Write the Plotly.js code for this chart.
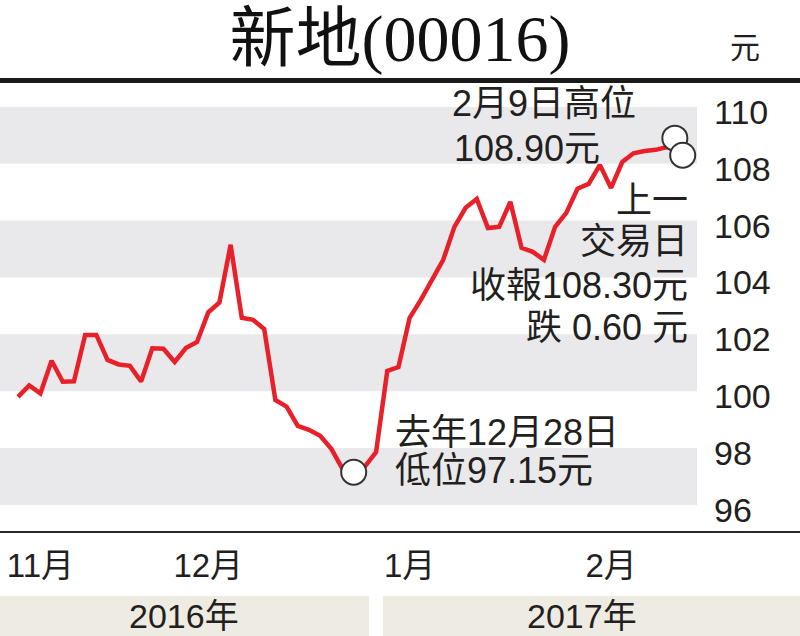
<!DOCTYPE html>
<html>
<head>
<meta charset="utf-8">
<script src="https://cdn.plot.ly/plotly-3.0.1.min.js"></script>
<style>html,body{margin:0;padding:0;background:#fff;}#chart{width:800px;height:636px;}</style>
</head>
<body>
<div id="chart"></div>
<script>
// Trading-day index (0 = 14 Nov 2016 ... 58 = 9 Feb 2017)
const closePrices = [
  99.80, 100.20, 99.92, 101.07, 100.33, 100.35, 101.98, 101.98, 101.10, 100.94,
  100.89, 100.34, 101.51, 101.49, 101.03, 101.52, 101.73, 102.77, 103.12, 105.15,
  102.58, 102.51, 102.19, 99.69, 99.46, 98.78, 98.64, 98.43, 97.97, 97.27,
  97.15, 97.35, 97.86, 100.71, 100.85, 102.58, 103.21, 103.90, 104.62, 105.78,
  106.45, 106.76, 105.74, 105.78, 106.66, 105.04, 104.90, 104.62, 105.78, 106.27,
  107.12, 107.29, 107.96, 107.15, 108.06, 108.37, 108.45, 108.49, 108.59
];
const dayIndex = closePrices.map((_, i) => i);

// highlighted points: 28 Dec low, 9 Feb high, last close
const lowIdx = [30];
const lowVal = [97.15];
const recentIdx = [58.7, 59.4];
const recentVal = [108.90, 108.30];

const monthTickIdx = [2, 17, 35, 53];
const monthTickText = ['11月', '12月', '1月', '2月'];
const yTickVals = [96, 98, 100, 102, 104, 106, 108, 110];
const bandRanges = [[96, 98], [100, 102], [104, 106], [108, 110]];
const yearLabels = ['2016年', '2017年'];

const TXT = '#231f20';
const FONT = 'Liberation Sans, Arial, Noto Sans CJK TC, sans-serif';

const W = 697, TOP = 85, BOT = 512, H = BOT - TOP;
const px = x => x / W;
const py = y => (BOT - y) / H;

const shapes = bandRanges.map(r => ({
  type: 'rect', xref: 'paper', yref: 'y', x0: 0, x1: 1, y0: r[0], y1: r[1],
  fillcolor: '#e9e9eb', line: {width: 0}, layer: 'below'
}));
// top heavy rule
shapes.push({type: 'rect', xref: 'paper', yref: 'paper', x0: 0, x1: 800 / W,
  y0: py(83), y1: py(78), fillcolor: '#1a1a1a', line: {width: 0}});
// bottom rule
shapes.push({type: 'rect', xref: 'paper', yref: 'paper', x0: 0, x1: 800 / W,
  y0: py(533), y1: py(531), fillcolor: '#2a2a2a', line: {width: 0}});
// year bands
shapes.push({type: 'rect', xref: 'paper', yref: 'paper', x0: 0, x1: px(369),
  y0: py(636), y1: py(596), fillcolor: '#eeebe2', line: {width: 0}});
shapes.push({type: 'rect', xref: 'paper', yref: 'paper', x0: px(383), x1: 800 / W,
  y0: py(636), y1: py(596), fillcolor: '#eeebe2', line: {width: 0}});

const ann = (text, x, y, xanchor, size) => ({
  text, xref: 'paper', yref: 'paper', x: px(x), y: py(y), xanchor, yanchor: 'middle',
  showarrow: false, font: {family: FONT, size: size || 36, color: TXT}
});

const annotations = [
  ann('2月9日高位', 450, 103, 'left'),
  ann('108.90元', 452, 148, 'left'),
  ann('上一', 690, 200, 'right'),
  ann('交易日', 690, 242, 'right'),
  ann('收報108.30元', 690, 285, 'right'),
  ann('跌 0.60 元', 690, 327, 'right'),
  ann('去年12月28日', 393, 432, 'left'),
  ann('低位97.15元', 393, 470, 'left'),
  ann('元', 745, 48, 'center', 30),
  ann(yearLabels[0], 184, 616, 'center', 34),
  ann(yearLabels[1], 582, 616, 'center', 34)
];

const traces = [
  {x: dayIndex, y: closePrices, type: 'scatter', mode: 'lines',
   line: {color: '#e8202a', width: 4.5}, hoverinfo: 'skip'},
  {x: lowIdx.concat(recentIdx), y: lowVal.concat(recentVal), type: 'scatter', mode: 'markers',
   marker: {size: 25, color: '#ffffff', line: {color: '#333333', width: 2}}, hoverinfo: 'skip'}
];

const layout = {
  width: 800, height: 636,
  margin: {l: 0, r: 800 - W, t: TOP, b: 636 - BOT, pad: 0},
  paper_bgcolor: '#ffffff', plot_bgcolor: '#ffffff',
  showlegend: false,
  title: {text: '新地(00016)', x: 0.5, xref: 'container', y: 1 - 38 / 636, yref: 'container',
    xanchor: 'center', yanchor: 'middle',
    font: {family: 'Liberation Serif, Noto Sans CJK TC, serif', size: 66, color: '#111'}},
  xaxis: {range: [-1.61, 60.68], showgrid: false, zeroline: false, showline: false,
    tickmode: 'array', tickvals: monthTickIdx, ticktext: monthTickText, ticks: '',
    ticklabelstandoff: 31, tickfont: {family: FONT, size: 33, color: TXT}, fixedrange: true},
  yaxis: {range: [95.75, 110.77], side: 'right', showgrid: false, zeroline: false, showline: false,
    tickmode: 'array', tickvals: yTickVals, ticks: '', ticklabelstandoff: 16, ticklabelshift: 5,
    tickfont: {family: FONT, size: 34, color: TXT}, fixedrange: true},
  shapes, annotations
};

Plotly.newPlot('chart', traces, layout, {staticPlot: true});
</script>
</body>
</html>
